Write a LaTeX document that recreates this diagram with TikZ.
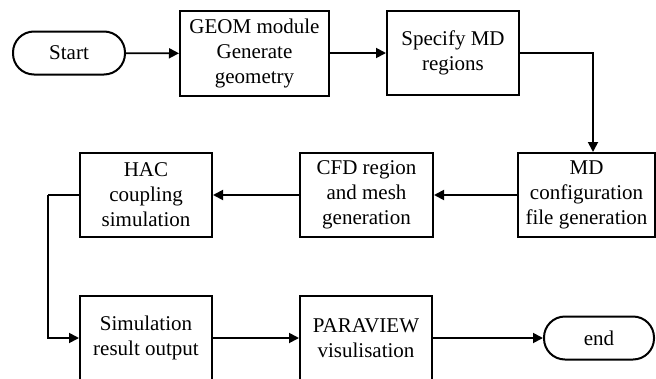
\documentclass[tikz,border=0pt]{standalone}
\usepackage{fontspec}
\setmainfont{Liberation Serif}
\usetikzlibrary{arrows.meta}
\begin{document}
\begin{tikzpicture}[x=1pt,y=-1pt,
  every node/.style={font=\fontsize{21}{25}\selectfont, align=center, inner sep=0pt, line width=2pt},
  procbox/.style={draw, rectangle, minimum height=84pt},
  terminal/.style={draw, rectangle, rounded corners=21pt, minimum height=43pt},
  flow/.style={line width=1.8pt, -{Triangle[length=10pt,width=10pt]}},
  link/.style={line width=1.8pt}]
  \clip (0,0) rectangle (656,378);

  % top row
  \node[terminal, minimum width=112pt] (start) at (69,53) {Start};
  \node[procbox, minimum width=149pt, minimum height=85pt] (geom) at (254.5,53.5) {GEOM module\\Generate\\geometry};
  \node[procbox, minimum width=132pt] (spec) at (453,53) {Specify MD\\regions};

  % middle row
  \node[procbox, minimum width=137pt] (md) at (586.5,195) {MD\\configuration\\file generation};
  \node[procbox, minimum width=133pt] (cfd) at (366.5,195) {CFD region\\and mesh\\generation};
  \node[procbox, minimum width=132pt] (hac) at (146,195) {HAC\\coupling\\simulation};

  % bottom row
  \node[procbox, minimum width=132pt] (sim) at (146,338) {Simulation\\result output};
  \node[procbox, minimum width=132pt] (para) at (366,338) {PARAVIEW\\visulisation};
  \node[terminal, minimum width=110pt] (end) at (599,338) {end};

  \coordinate (bend) at (48,195);

  % connectors
  \draw[flow] (start) -- (geom);
  \draw[flow] (geom.east |- spec.west) -- (spec.west);
  \draw[flow] (spec.east) -| ([xshift=6.5pt]md.north);
  \draw[flow] (md) -- (cfd);
  \draw[flow] (cfd) -- (hac);
  \draw[link] (hac.west) -- (bend);
  \draw[flow] (bend) |- (sim.west);
  \draw[flow] (sim) -- (para);
  \draw[flow] (para) -- (end);
\end{tikzpicture}
\end{document}
